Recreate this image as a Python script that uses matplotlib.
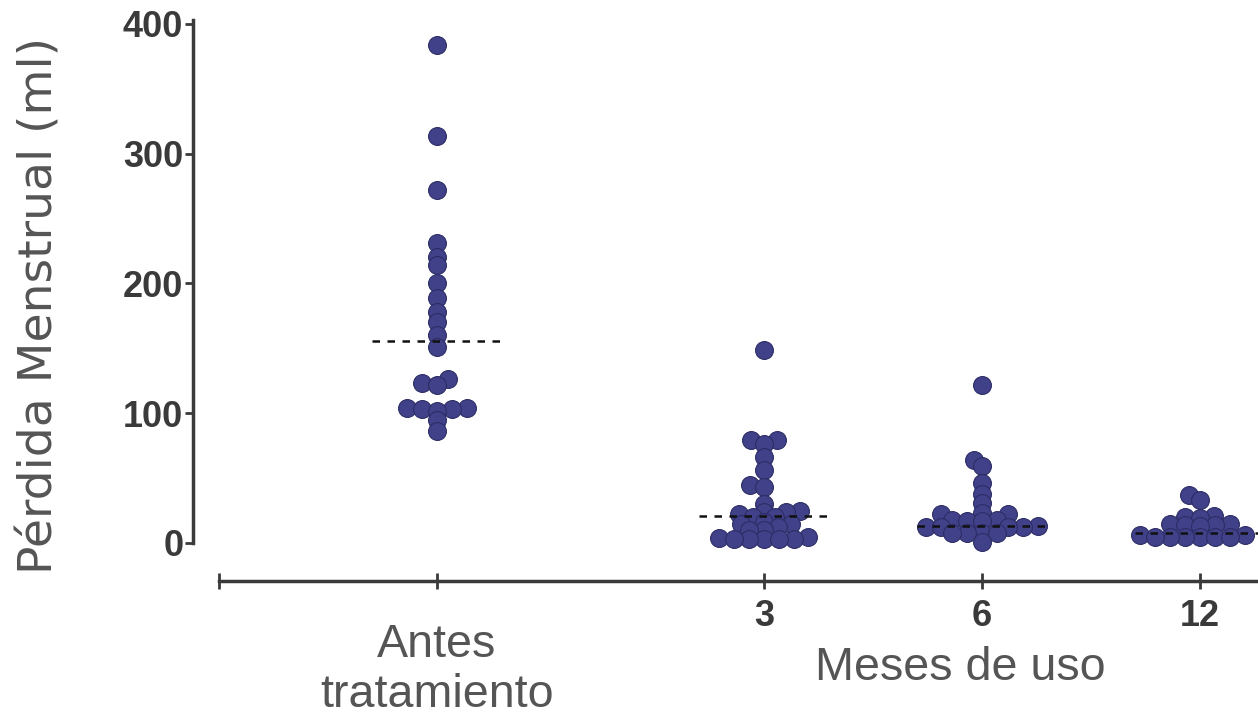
import matplotlib
matplotlib.use('Agg')
import matplotlib.pyplot as plt
from matplotlib import font_manager
import numpy as np

# ---------------- data ----------------
group_labels = ['Antes\ntratamiento', '3', '6', '12']
antes = [384, 314, 272, 231, 220, 214, 200, 189, 178, 170, 160, 151,
         126, 123, 122, 104, 104, 103, 103, 102, 95, 86]
mes3 = [149, 79, 79, 76, 66, 56, 45, 43, 30, 25, 24, 24, 22, 20, 20, 16,
        15, 15, 12, 10, 10, 5, 4, 3, 3, 3, 3, 3]
mes6 = [122, 64, 59, 46, 38, 31, 23, 22, 22, 18, 18, 17, 17, 13, 12, 12,
        12, 12, 8, 8, 8, 8, 1]
mes12 = [37, 33, 21, 20, 19, 15, 15, 14, 14, 13, 6, 6, 5, 5, 5, 5, 5, 5]
medians = [156, 21, 13, 8]
yticks = [0, 100, 200, 300, 400]

groups = [antes, mes3, mes6, mes12]
positions = [0.0, 1.5, 2.5, 3.5]

# ---------------- fonts ----------------
names = {f.name for f in font_manager.fontManager.ttflist}
NARROW = 'Liberation Sans Narrow' in names
FAM = 'Liberation Sans Narrow' if NARROW else 'Liberation Sans'
S = 1.0 if NARROW else 0.84

W, H = 1258, 721
fig = plt.figure(figsize=(W / 100, H / 100), dpi=100)
fig.patch.set_facecolor('white')

ax_left, ax_right, ax_top, ax_bot = 193, 1258, 20, 543
ax = fig.add_axes([ax_left / W, (H - ax_bot) / H,
                   (ax_right - ax_left) / W, (ax_bot - ax_top) / H])

ppx = 218.0                       # pixels per x unit
xmin = -1.0 - (219 - ax_left) / ppx
xmax = xmin + (ax_right - ax_left) / ppx
ymax = 403.0
ppy = (ax_bot - ax_top) / ymax    # pixels per y unit
ax.set_xlim(xmin, xmax)
ax.set_ylim(0, ymax)


def swarm(values, dxm, dym):
    """Elliptical-collision beeswarm: offsets in x units."""
    vals = np.asarray(values, float)
    order = np.argsort(vals)
    placed = []
    xs = np.zeros(len(vals))

    def ok(c, y):
        return all(((c - px) / dxm) ** 2 + ((y - py) / dym) ** 2 >= 1 - 1e-9
                   for px, py in placed)

    for i in order:
        y = vals[i] * ppy
        cands = [0.0]
        for px, py in placed:
            r = abs(py - y) / dym
            if r < 1:
                dx = dxm * np.sqrt(1 - r * r)
                cands += [px + dx, px - dx]
        cands = sorted(cands, key=lambda c: (abs(c), c))
        chosen = 0.0
        for c in cands:
            if ok(c, y):
                chosen = c
                break
        xs[i] = chosen
        placed.append((chosen, y))
    return xs / ppx


dot_face = '#41418a'
dot_edge = '#2c2c66'
for pos, vals in zip(positions, groups):
    off = swarm(vals, 15.0, 7.5)
    ax.scatter(pos + off, vals, s=165, facecolor=dot_face, edgecolor=dot_edge,
               linewidth=0.8, zorder=3, clip_on=False)

for pos, m in zip(positions, medians):
    ax.plot([pos - 0.3, pos + 0.3], [m, m], color='#111111', lw=1.8,
            dashes=(3, 3), zorder=4)

spine_col = '#3a3a3a'
for s in ['top', 'right']:
    ax.spines[s].set_visible(False)
ax.spines['left'].set_color(spine_col)
ax.spines['left'].set_linewidth(2.5)
ax.spines['bottom'].set_color(spine_col)
ax.spines['bottom'].set_linewidth(2.5)
ax.spines['bottom'].set_position(('outward', 27))
ax.spines['bottom'].set_bounds(-1.0, xmax)

tick_col = '#3a3a3a'
ax.set_yticks(yticks)
ax.set_yticklabels([str(v) for v in yticks])
ax.tick_params(axis='y', direction='out', length=6, width=2, color=spine_col,
               pad=1, labelcolor=tick_col)
ax.set_xticks([-1.0] + positions)
ax.set_xticklabels(['', '', group_labels[1], group_labels[2], group_labels[3]])
ax.tick_params(axis='x', direction='inout', length=12, width=2, color=spine_col,
               pad=7, labelcolor=tick_col)
for lab in ax.get_yticklabels() + ax.get_xticklabels():
    lab.set_fontfamily(FAM)
    lab.set_fontweight('bold')
    lab.set_fontsize(31 * S)

lab_col = '#555555'
fp = ('data', 'figure pixels')
a_l1, a_l2 = group_labels[0].split('\n')
ax.annotate(a_l1, xy=(positions[0], H - 645), xycoords=fp, ha='center', va='center',
            fontsize=40 * S, family=FAM, color=lab_col, annotation_clip=False)
ax.annotate(a_l2, xy=(positions[0], H - 695), xycoords=fp, ha='center', va='center',
            fontsize=40 * S, family=FAM, color=lab_col, annotation_clip=False)
ax.annotate('Meses de uso', xy=((960 - 437) / ppx, H - 668), xycoords=fp,
            ha='center', va='center', fontsize=40 * S, family=FAM, color=lab_col,
            annotation_clip=False)
fig.text(40 / W, (H - 305) / H, 'Pérdida Menstrual (ml)', rotation=90,
         ha='center', va='center', fontsize=34, family='DejaVu Sans', color=lab_col)

fig.savefig('out.png', dpi=100, facecolor='white')
